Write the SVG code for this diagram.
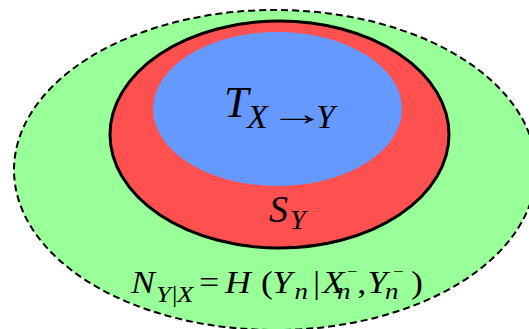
<svg xmlns="http://www.w3.org/2000/svg" width="529" height="329" viewBox="0 0 529 329">
<style>
.m{font-family:"Liberation Serif","Times New Roman",serif;font-style:italic;fill:#000}
.u{font-family:"Liberation Serif","Times New Roman",serif;font-style:normal;fill:#000}
</style>
<rect width="529" height="329" fill="#fff"/>
<g id="N">
<ellipse cx="275" cy="170" rx="261" ry="160" fill="#99ff99" stroke="#000" stroke-width="2" stroke-dasharray="7 4"/>
<text class="m" font-size="32" transform="scale(1.12 1)"><tspan x="117" y="293">N</tspan><tspan x="139.3" y="302" font-size="24">Y</tspan><tspan class="u" x="153.6" y="302" font-size="24">|</tspan><tspan x="158" y="302" font-size="24">X</tspan><tspan class="u" x="177.7" y="293">=</tspan><tspan x="200.9" y="293">H</tspan><tspan class="u" x="233" y="293">(</tspan><tspan x="243" y="293">Y</tspan><tspan x="263" y="299" font-size="24">n</tspan><tspan class="u" x="279.5" y="293">|</tspan><tspan x="288" y="293">X</tspan><tspan x="301" y="299" font-size="24">n</tspan><tspan class="u" x="309.5" y="277" font-size="17">−</tspan><tspan class="u" x="319" y="293">,</tspan><tspan x="328" y="293">Y</tspan><tspan x="343.75" y="299" font-size="24">n</tspan><tspan class="u" x="351" y="277" font-size="17">−</tspan><tspan class="u" x="367" y="293">)</tspan></text>
</g>
<g id="S">
<ellipse cx="279.5" cy="134.5" rx="169.5" ry="113.5" fill="#ff5050" stroke="#000" stroke-width="3"/>
<text class="m"><tspan x="269" y="222" font-size="38">S</tspan><tspan x="290" y="229" font-size="28">Y</tspan></text>
</g>
<g id="T">
<ellipse cx="277.5" cy="109" rx="124.5" ry="77" fill="#6699ff"/>
<text class="m"><tspan x="224" y="117" font-size="44">T</tspan><tspan x="247" y="128" font-size="34">X</tspan><tspan x="316" y="128" font-size="34">Y</tspan></text>
<text class="u" x="269" y="125" font-size="34" textLength="56" lengthAdjust="spacingAndGlyphs">→</text>
</g>
</svg>
